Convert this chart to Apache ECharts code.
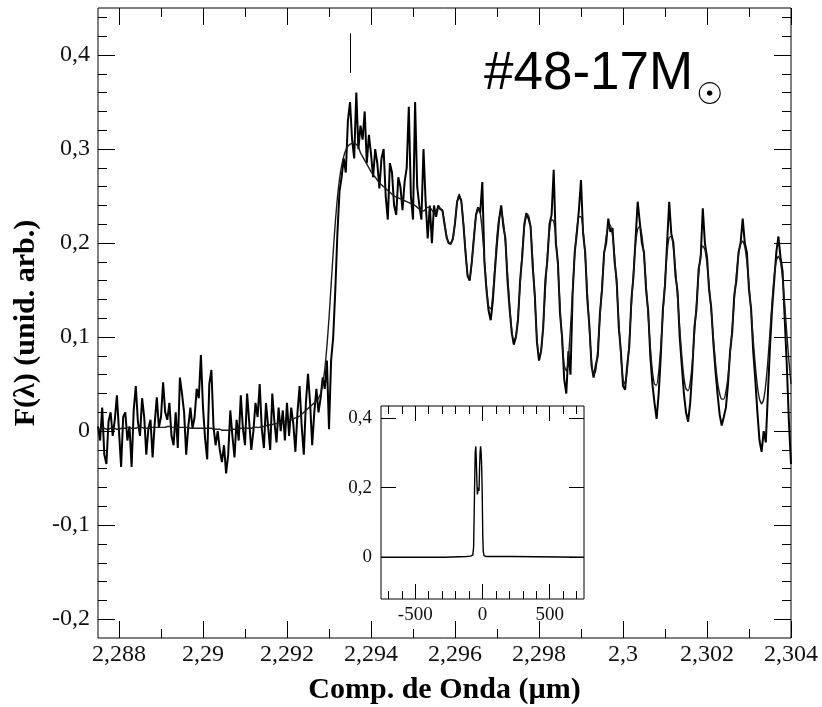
<!DOCTYPE html>
<html>
<head>
<meta charset="utf-8">
<script src="https://cdn.jsdelivr.net/npm/echarts@6/dist/echarts.min.js"></script>
<style>html,body{margin:0;padding:0;background:#fff}#c{width:822px;height:707px}</style>
</head>
<body>
<div id="c"></div>
<script>
// ---- main spectrum: uniform wavelength grid (µm) ----
const waveStart = 2.2875;
const waveStep = 0.00005;
const obsFlux = [
0.005,-0.01,0.025,-0.025,-0.035,0.01,0.02,-0.005,0.012,0.038,
0.0,-0.038,0.015,0.02,-0.01,0.005,-0.038,0.022,0.048,0.01,
-0.005,0.035,0.015,-0.025,0.003,0.012,-0.028,0.008,0.036,0.004,
0.015,0.052,0.02,0.012,0.03,-0.005,-0.015,0.02,-0.018,0.057,
0.04,0.02,-0.025,0.005,0.025,0.003,0.015,0.045,0.035,0.081,
0.025,-0.008,-0.03,0.05,0.065,0.005,-0.015,0.0,-0.02,-0.033,
-0.015,-0.045,-0.025,0.022,-0.005,-0.028,0.012,-0.01,0.038,0.003,
-0.015,0.04,0.01,-0.02,0.0,0.03,0.015,0.05,0.002,-0.018,
0.03,0.005,-0.02,0.04,0.01,-0.012,0.025,0.0,0.022,-0.01,
0.03,-0.005,0.025,0.008,-0.022,0.02,0.048,0.005,-0.025,0.03,
0.061,0.03,-0.015,0.02,0.045,0.02,0.035,0.057,0.045,0.075,
0.002,0.075,0.1,0.15,0.21,0.255,0.27,0.29,0.275,0.33,
0.35,0.31,0.29,0.36,0.3,0.325,0.31,0.34,0.285,0.315,
0.295,0.27,0.3,0.285,0.258,0.29,0.3,0.25,0.225,0.285,
0.275,0.24,0.23,0.27,0.26,0.235,0.265,0.28,0.345,0.25,
0.225,0.35,0.26,0.24,0.225,0.3,0.245,0.205,0.24,0.2,
0.24,0.228,0.24,0.236,0.235,0.22,0.206,0.2,0.199,0.205,
0.221,0.244,0.25,0.245,0.22,0.19,0.165,0.16,0.18,0.205,
0.23,0.238,0.232,0.265,0.18,0.15,0.128,0.118,0.138,0.17,
0.2,0.225,0.24,0.218,0.205,0.16,0.13,0.105,0.092,0.1,
0.118,0.16,0.185,0.22,0.232,0.226,0.218,0.175,0.145,0.095,
0.075,0.085,0.11,0.16,0.182,0.22,0.23,0.278,0.2,0.18,
0.125,0.1,0.055,0.04,0.085,0.06,0.145,0.19,0.21,0.235,
0.267,0.21,0.19,0.14,0.112,0.07,0.057,0.07,0.08,0.125,
0.15,0.19,0.2,0.226,0.212,0.216,0.18,0.16,0.11,0.085,
0.048,0.044,0.07,0.09,0.14,0.165,0.205,0.244,0.222,0.2,
0.19,0.15,0.128,0.08,0.05,0.03,0.013,0.04,0.08,0.13,
0.155,0.2,0.244,0.21,0.2,0.165,0.148,0.1,0.07,0.04,
0.02,0.01,0.03,0.065,0.11,0.13,0.172,0.185,0.237,0.2,
0.185,0.15,0.132,0.095,0.065,0.04,0.018,0.006,0.015,0.025,
0.05,0.085,0.105,0.145,0.16,0.19,0.2,0.226,0.2,0.19,
0.15,0.13,0.085,0.055,0.02,-0.01,-0.022,0.0,-0.012,0.04,
0.09,0.13,0.16,0.19,0.207,0.185,0.17,0.12,0.07,0.01,-0.035
];
const modelFlux = [
0.002,0.002,0.003,0.003,0.002,0.002,0.003,0.003,0.003,0.002,
0.002,0.003,0.003,0.003,0.004,0.004,0.003,0.003,0.003,0.004,
0.004,0.004,0.003,0.003,0.003,0.003,0.004,0.004,0.004,0.004,
0.004,0.004,0.004,0.005,0.005,0.004,0.004,0.004,0.004,0.004,
0.004,0.004,0.004,0.004,0.003,0.003,0.003,0.003,0.003,0.003,
0.003,0.003,0.003,0.003,0.003,0.002,0.002,0.002,0.002,0.001,
0.001,0.001,0.001,0.001,0.002,0.002,0.002,0.002,0.003,0.003,
0.003,0.003,0.003,0.003,0.004,0.004,0.004,0.004,0.005,0.005,
0.006,0.006,0.007,0.007,0.008,0.008,0.009,0.009,0.01,0.01,
0.011,0.012,0.012,0.013,0.014,0.015,0.016,0.018,0.02,0.022,
0.024,0.026,0.028,0.03,0.032,0.035,0.04,0.05,0.066,0.09,
0.12,0.155,0.19,0.222,0.248,0.268,0.282,0.292,0.299,0.303,
0.305,0.306,0.306,0.305,0.302,0.296,0.292,0.288,0.284,0.28,
0.276,0.273,0.27,0.267,0.264,0.262,0.26,0.258,0.256,0.254,
0.252,0.25,0.249,0.248,0.247,0.246,0.245,0.244,0.243,0.242,
0.241,0.24,0.238,0.236,0.235,0.234,0.236,0.238,0.238,0.235,
0.232,0.234,0.238,0.237,0.234,0.222,0.208,0.2,0.2,0.204,
0.222,0.243,0.252,0.244,0.222,0.192,0.166,0.162,0.18,0.207,
0.229,0.237,0.232,0.212,0.183,0.153,0.133,0.13,0.145,0.175,
0.207,0.227,0.232,0.223,0.2,0.168,0.135,0.108,0.097,0.1,
0.122,0.155,0.19,0.216,0.229,0.23,0.215,0.182,0.14,0.1,
0.08,0.085,0.112,0.15,0.188,0.213,0.225,0.223,0.206,0.174,
0.134,0.095,0.07,0.064,0.078,0.11,0.15,0.187,0.214,0.228,
0.228,0.214,0.186,0.148,0.108,0.075,0.06,0.064,0.087,0.12,
0.155,0.186,0.207,0.218,0.219,0.208,0.186,0.154,0.116,0.08,
0.055,0.05,0.065,0.096,0.134,0.17,0.199,0.215,0.218,0.208,
0.186,0.156,0.122,0.09,0.064,0.05,0.049,0.063,0.09,0.124,
0.16,0.19,0.206,0.207,0.195,0.172,0.142,0.11,0.08,0.057,
0.045,0.043,0.052,0.073,0.103,0.136,0.166,0.188,0.197,0.193,
0.178,0.155,0.128,0.1,0.074,0.053,0.04,0.034,0.034,0.042,
0.058,0.082,0.11,0.14,0.167,0.187,0.199,0.202,0.196,0.18,
0.156,0.127,0.097,0.07,0.048,0.034,0.029,0.034,0.05,0.075,
0.106,0.138,0.165,0.181,0.186,0.18,0.162,0.135,0.104,0.075,0.05
];
// band-head marker: [wavelength, y from, y to]
const bandheadMark = [2.2935, 0.381, 0.423];

// ---- main axes ticks ----
const xMajorTicks = [2.288, 2.29, 2.292, 2.294, 2.296, 2.298, 2.3, 2.302, 2.304];
const xMinorTicks = [2.289, 2.291, 2.293, 2.295, 2.297, 2.299, 2.301, 2.303];
const yMajorTicks = [-0.2, -0.1, 0, 0.1, 0.2, 0.3, 0.4];
const yMinorTicks = [-0.18,-0.16,-0.14,-0.12,-0.08,-0.06,-0.04,-0.02,0.02,0.04,0.06,0.08,
  0.12,0.14,0.16,0.18,0.22,0.24,0.26,0.28,0.32,0.34,0.36,0.38,0.42,0.44];

// ---- inset (cross-correlation) ----
const insetX = [-755,-280,-278,-120,-90,-72,-66,-62,-58,-54,-50,-46,-42,-38,-34,-30,-26,-22,-18,-14,-10,-6,-2,2,6,12,30,80,215,217,755];
const insetY = [0,0,0.002,0.002,0.003,0.006,0.03,0.12,0.22,0.3,0.318,0.28,0.22,0.18,0.175,0.2,0.19,0.25,0.3,0.318,0.3,0.26,0.18,0.06,0.015,0.004,0.002,0.002,0.002,0,0];
const insetXMajor = [-500, 0, 500];
const insetXMinor = [-700,-600,-400,-300,-200,-100,100,200,300,400,600,700];
const insetYMajor = [0, 0.2, 0.4];

const obsData = obsFlux.map((v, i) => [waveStart + i * waveStep, v]);
const modelData = modelFlux.map((v, i) => [waveStart + i * waveStep, v]);
const insetData = insetX.map((x, i) => [x, insetY[i]]);

const fmt = v => String(v).replace('.', ',');
const serif = 'Liberation Serif';

function axis(gridIndex, position, min, max, ticks, len, labels, fontSize, margin) {
  return {
    type: 'value', gridIndex, position, min, max,
    axisLine: {show: false, onZero: false},
    splitLine: {show: false},
    axisTick: {show: true, inside: true, length: len, customValues: ticks,
      lineStyle: {color: '#000', width: 1}},
    axisLabel: labels ? {show: true, customValues: labels, formatter: fmt,
      fontFamily: serif, fontSize: fontSize, color: '#111', margin: margin} : {show: false}
  };
}

const xAxes = [
  axis(0, 'bottom', 2.2875, 2.304, xMajorTicks, 17, xMajorTicks, 24, 5),
  axis(0, 'bottom', 2.2875, 2.304, xMinorTicks, 9, null),
  axis(0, 'top', 2.2875, 2.304, xMajorTicks, 17, null),
  axis(0, 'top', 2.2875, 2.304, xMinorTicks, 9, null),
  axis(1, 'bottom', -755, 755, insetXMajor, 15, insetXMajor, 19, 7),
  axis(1, 'bottom', -755, 755, insetXMinor, 8, null),
  axis(1, 'top', -755, 755, insetXMajor, 15, null),
  axis(1, 'top', -755, 755, insetXMinor, 8, null)
];
xAxes[0].name = 'Comp. de Onda (\u00b5m)';
xAxes[0].nameLocation = 'middle';
xAxes[0].nameGap = 37;
xAxes[0].nameTextStyle = {fontFamily: serif, fontWeight: 'bold', fontSize: 30, color: '#000'};

const yAxes = [
  axis(0, 'left', -0.22, 0.45, yMajorTicks, 17, yMajorTicks, 24, 8),
  axis(0, 'left', -0.22, 0.45, yMinorTicks, 9, null),
  axis(0, 'right', -0.22, 0.45, yMajorTicks, 17, null),
  axis(0, 'right', -0.22, 0.45, yMinorTicks, 9, null),
  axis(1, 'left', -0.12, 0.434, insetYMajor, 15, insetYMajor, 19, 9),
  axis(1, 'right', -0.12, 0.434, insetYMajor, 15, null)
];
yAxes[0].name = 'F(\u03bb) (unid. arb.)';
yAxes[0].nameLocation = 'middle';
yAxes[0].nameGap = 54;
yAxes[0].nameTextStyle = {fontFamily: serif, fontWeight: 'bold', fontSize: 30, color: '#000'};

const chart = echarts.init(document.getElementById('c'), null, {renderer: 'canvas'});
chart.setOption({
  animation: false,
  backgroundColor: '#fff',
  grid: [
    {left: 98, top: 8, width: 693, height: 630, show: true, borderColor: '#000', borderWidth: 1,
     backgroundColor: 'transparent', containLabel: false, outerBoundsMode: 'none'},
    {left: 381, top: 406, width: 203, height: 193, show: true, borderColor: '#000', borderWidth: 1,
     backgroundColor: '#fff', containLabel: false, outerBoundsMode: 'none'}
  ],
  xAxis: xAxes,
  yAxis: yAxes,
  graphic: [
    {type: 'text', x: 484, y: 74, z: 100,
     style: {text: '#48-17M', font: '53px "Liberation Sans"', fill: '#000',
       align: 'left', verticalAlign: 'middle', textAlign: 'left', textVerticalAlign: 'middle'}},
    {type: 'text', x: 696, y: 96, z: 100,
     style: {text: '\u2609', font: '30px "DejaVu Sans"', fill: '#000',
       align: 'left', verticalAlign: 'middle', textAlign: 'left', textVerticalAlign: 'middle'}}
  ],
  series: [
    {type: 'line', name: 'modelo', xAxisIndex: 0, yAxisIndex: 0, data: modelData,
     showSymbol: false, smooth: 0.2, lineStyle: {color: '#1a1a1a', width: 1.4}, z: 3},
    {type: 'line', name: 'observado', xAxisIndex: 0, yAxisIndex: 0, data: obsData,
     showSymbol: false, lineStyle: {color: '#000', width: 2}, z: 2,
     markLine: {silent: true, symbol: ['none', 'none'], label: {show: false},
       lineStyle: {color: '#000', width: 1, type: 'solid'},
       data: [[{coord: [bandheadMark[0], bandheadMark[1]]}, {coord: [bandheadMark[0], bandheadMark[2]]}]]}},
    {type: 'line', name: 'inset', xAxisIndex: 4, yAxisIndex: 4, data: insetData,
     showSymbol: false, lineStyle: {color: '#000', width: 1.4}, z: 4}
  ]
});
</script>
</body>
</html>
